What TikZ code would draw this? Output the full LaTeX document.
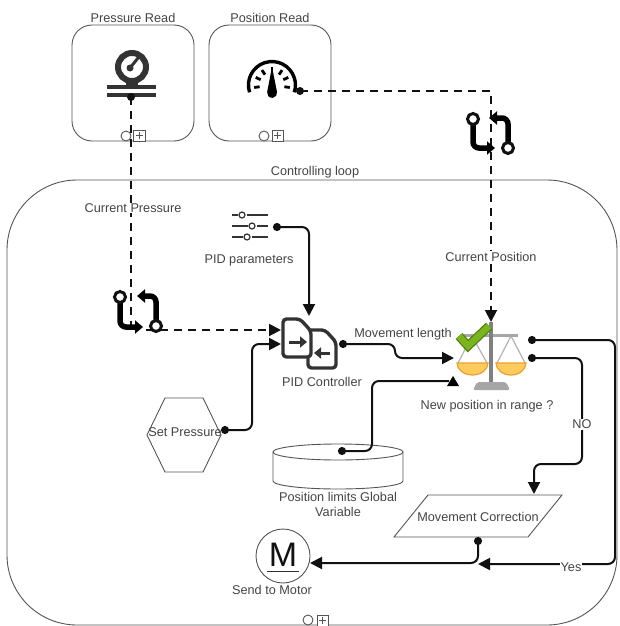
\documentclass[tikz,border=0pt]{standalone}
\usepackage{fontspec}
\setmainfont{Liberation Sans}
\usetikzlibrary{arrows.meta,calc}
\definecolor{txt}{HTML}{444444}
\definecolor{edge}{HTML}{555555}
\definecolor{ink}{HTML}{111111}
\definecolor{iconc}{HTML}{333333}
\definecolor{panfill}{HTML}{FFCB5C}
\definecolor{panedge}{HTML}{E8A030}
\definecolor{chk}{HTML}{7AB51D}
\definecolor{chkedge}{HTML}{4F7F10}
\tikzset{
  lbl/.style={font=\fontsize{12.7}{15}\selectfont,text=txt,inner sep=1pt,align=center},
  lblbg/.style={lbl,fill=white},
  taskbox/.style={draw=edge,line width=0.9pt,rounded corners=20pt,fill=white,minimum width=122pt,minimum height=116pt,inner sep=0pt},
  conn/.style={draw=ink,line width=2pt,rounded corners=7pt,{Circle[length=8pt]}-{Triangle[length=12pt,width=12pt]}},
  connplain/.style={draw=ink,line width=2pt,rounded corners=7pt,{Circle[length=8pt]}-},
  dashconn/.style={draw=ink,line width=2pt,dash pattern=on 8pt off 6pt},
  loopring/.style={circle,draw=ink,line width=3pt,fill=white,minimum size=11pt,inner sep=0pt},
  looparrow/.style={draw=black,line width=5.5pt,rounded corners=6pt,-{Triangle[length=8pt,width=13pt]}},
  shapeline/.style={draw=edge,line width=0.9pt,fill=white},
  markstyle/.style={draw=edge,line width=0.9pt,fill=white},
}
\begin{document}
\begin{tikzpicture}[x=1pt,y=-1pt]
\useasboundingbox (0,0) rectangle (620,626);
% containers
\node[draw=edge,line width=0.9pt,rounded corners=70pt,minimum width=610pt,minimum height=445pt,inner sep=0pt] (main) at (312,402.5) {};
\node[taskbox] (pread) at (133,83) {};
\node[taskbox] (posread) at (270,83) {};
\node[lbl] (preadl) at (133,18) {Pressure Read};
\node[lbl] (posreadl) at (270,18) {Position Read};
\node[lbl] (mainl) at (315,172) {Controlling loop};
% markers
\draw[markstyle] (126,136) circle (5pt);
\draw[markstyle] (133,130) rectangle (145,141);
\draw[markstyle,line width=0.7pt] (135.5,135.5) -- (142.5,135.5) (139,132) -- (139,139);
\draw[markstyle] (264,136) circle (5pt);
\draw[markstyle] (272,130) rectangle (283,141);
\draw[markstyle,line width=0.7pt] (274,135.5) -- (281,135.5) (277.5,132) -- (277.5,139);
\draw[markstyle] (308,620) circle (5pt);
\draw[markstyle] (317,615) rectangle (328,626);
\draw[markstyle,line width=0.7pt] (319,620.5) -- (326,620.5) (322.5,617) -- (322.5,624);
% pressure gauge icon
\draw[iconc,line width=6pt] (132,67) circle (14pt);
\draw[iconc,line width=3pt,line cap=round] (130,68) -- (138,58);
\fill[iconc] (130,68) circle (3.5pt);
\fill[iconc] (126,81) rectangle (138,87);
\draw[iconc,line width=3.5pt] (107,87) -- (156,87) (107,95) -- (156,95);
% position gauge icon
\draw[black,line width=3.4pt] (249.6,92.3) arc[start angle=198,end angle=-18,radius=23.5pt];
\foreach \a in {188,155,124,90,56,25,-8}{
  \draw[black,line width=2.8pt] ($(272,85)+(\a:12.5pt)$) -- ($(272,85)+(\a:18pt)$);
}
\fill[black] (271,72) -- (273,72) -- (277,92) arc[start angle=10,end angle=-190,radius=5pt] -- cycle;
% sliders icon
\draw[iconc,line width=1.3pt] (232,215) -- (238,215) (247,215) -- (268,215)
  (232,226) -- (248,226) (257,226) -- (268,226)
  (232,237) -- (243,237) (252,237) -- (268,237);
\draw[iconc,line width=1.2pt,fill=white] (242,215) circle (3pt) (252,226) circle (3pt) (247,237) circle (3pt);
\node[lbl] (pidparl) at (249,260) {PID parameters};
% PID controller icon
\newcommand{\docshape}[2]{%
  \draw[iconc,line width=3.4pt,rounded corners=3.5pt,fill=white,line join=round]
   (#1,#2) -- (#1+17,#2) -- (#1+28,#2+12) -- (#1+28,#2+38) -- (#1,#2+38) -- cycle;}
\docshape{308}{330}
\docshape{283}{319}
\draw[iconc,line width=3pt,-{Triangle[length=7pt,width=11pt]}] (289,342) -- (307,342);
\draw[iconc,line width=3pt,-{Triangle[length=7pt,width=11pt]}] (330,353) -- (314,353);
\node[lbl] (pidl) at (322,382) {PID Controller};
% scale icon
\draw[black!30,line width=1.2pt] (472,336) -- (458,363) (472,336) -- (487,363)
  (511,336) -- (497,363) (511,336) -- (525,363);
\draw[black!35,line width=3pt] (464,335) -- (518,335);
\draw[black!50,line width=4.5pt] (491,322) -- (491,382);
\fill[black!35,rounded corners=2pt] (473,390) -- (477,382) -- (506,382) -- (510,390) -- cycle;
\draw[panedge,fill=panfill,line width=1.2pt] (457,363) -- (488,363) arc[start angle=0,end angle=-180,x radius=15.5pt,y radius=12pt] -- cycle;
\draw[panedge,fill=panfill,line width=1.2pt] (496,363) -- (526,363) arc[start angle=0,end angle=-180,x radius=15pt,y radius=12pt] -- cycle;
\draw[chkedge,line width=9pt,line join=miter] (459,336) -- (468,346) -- (489,326);
\draw[chk,line width=6.5pt,line join=miter] (459,336) -- (468,346) -- (489,326);
\node[lbl] (scalel) at (487,406) {New position in range ?};
% shapes with text
\draw[shapeline] (147,435) -- (165,398) -- (203,398) -- (221,435) -- (203,472) -- (165,472) -- cycle;
\node[lbl] (setpl) at (185,432) {Set Pressure};
\draw[shapeline] (273,452) -- (273,481) arc[start angle=180,end angle=360,x radius=65pt,y radius=8pt] -- (403,452);
\draw[shapeline] (338,452) ellipse (65pt and 8pt);
\node[lbl] (cyll) at (338,504.5) {Position limits Global\\Variable};
\draw[shapeline] (428,495) -- (562,495) -- (528,537) -- (394,537) -- cycle;
\node[lbl] (corrl) at (478,517) {Movement Correction};
\node[circle,draw=edge,line width=0.9pt,minimum size=54pt,inner sep=0pt] (motor) at (283,556) {};
\node[font=\fontsize{34}{34}\selectfont,text=ink,inner sep=0pt] (motorm) at (283,555) {M};
\draw[iconc,line width=1pt] (267,571) -- (299,571);
\node[lbl] (motorl) at (272,590) {Send to Motor};
% ports
\coordinate (pOut) at (131,97);
\coordinate (posOut) at (300,91);
\coordinate (turn) at (491,91);
\coordinate (scaleTop) at (491,322);
\coordinate (pidDash) at (281,330);
\coordinate (sliderOut) at (273,227);
\coordinate (sliderBend) at (309,227);
\coordinate (pidTop) at (309,316);
\coordinate (setOut) at (221,430);
\coordinate (pidLeft) at (281,344);
\coordinate (pidOut) at (339,344);
\coordinate (scaleIn) at (454,358);
\coordinate (cylOut) at (338,451);
\coordinate (scaleLow) at (449,381);
\coordinate (scaleYes) at (528,340);
\coordinate (scaleNo) at (528,358);
\coordinate (corrTop) at (534,494);
\coordinate (corrOut) at (478,537);
\coordinate (motorIn) at (310,563);
\coordinate (merge) at (478,564);
% dashed connectors
\draw[dashconn] (pOut) -- (131,330);
\fill[ink] (pOut) circle (4pt);
\draw[dashconn,-{Triangle[length=12pt,width=12pt]}] (posOut) -- (turn) -- (scaleTop);
\fill[ink] (posOut) circle (4pt);
\draw[dashconn,-{Triangle[length=12pt,width=12pt]}] (146,330) -- (pidDash);
\node[lblbg] (curp) at (133,208) {Current Pressure};
\node[lblbg] (curpos) at (491,257) {Current Position};
% loop icons
\draw[looparrow] (120,297) -- (120,327) -- (143,327);
\draw[looparrow] (156,326) -- (156,296) -- (137,296);
\node[loopring] (loopA1) at (120,297) {};
\node[loopring] (loopA2) at (156,326) {};
\draw[looparrow] (473,119) -- (473,148) -- (495,148);
\draw[looparrow] (508,148) -- (508,118) -- (489,118);
\node[loopring] (loopB1) at (473,119) {};
\node[loopring] (loopB2) at (508,148) {};
% solid connectors
\draw[conn] (sliderOut) -- (sliderBend) -- (pidTop);
\draw[conn] (setOut) -- (252,430) -- (252,344) -- (pidLeft);
\draw[conn] (pidOut) -- (395,344) -- (395,358) -- (scaleIn);
\draw[connplain] (cylOut) -- (372,451) -- (372,381) -- (scaleLow);
\fill[black] (447,386) -- (453,376) -- (459,386) -- cycle;
\draw[conn] (scaleYes) -- (615,340) -- (615,564) -- (merge);
\draw[conn] (scaleNo) -- (582,358) -- (582,464) -- (534,464) -- (corrTop);
\draw[conn] (corrOut) -- (478,563) -- (motorIn);
\node[lbl] (movel) at (403,334) {Movement length};
\node[lblbg] (nol) at (582,424) {NO};
\node[lblbg] (yesl) at (571,567) {Yes};
\end{tikzpicture}
\end{document}
